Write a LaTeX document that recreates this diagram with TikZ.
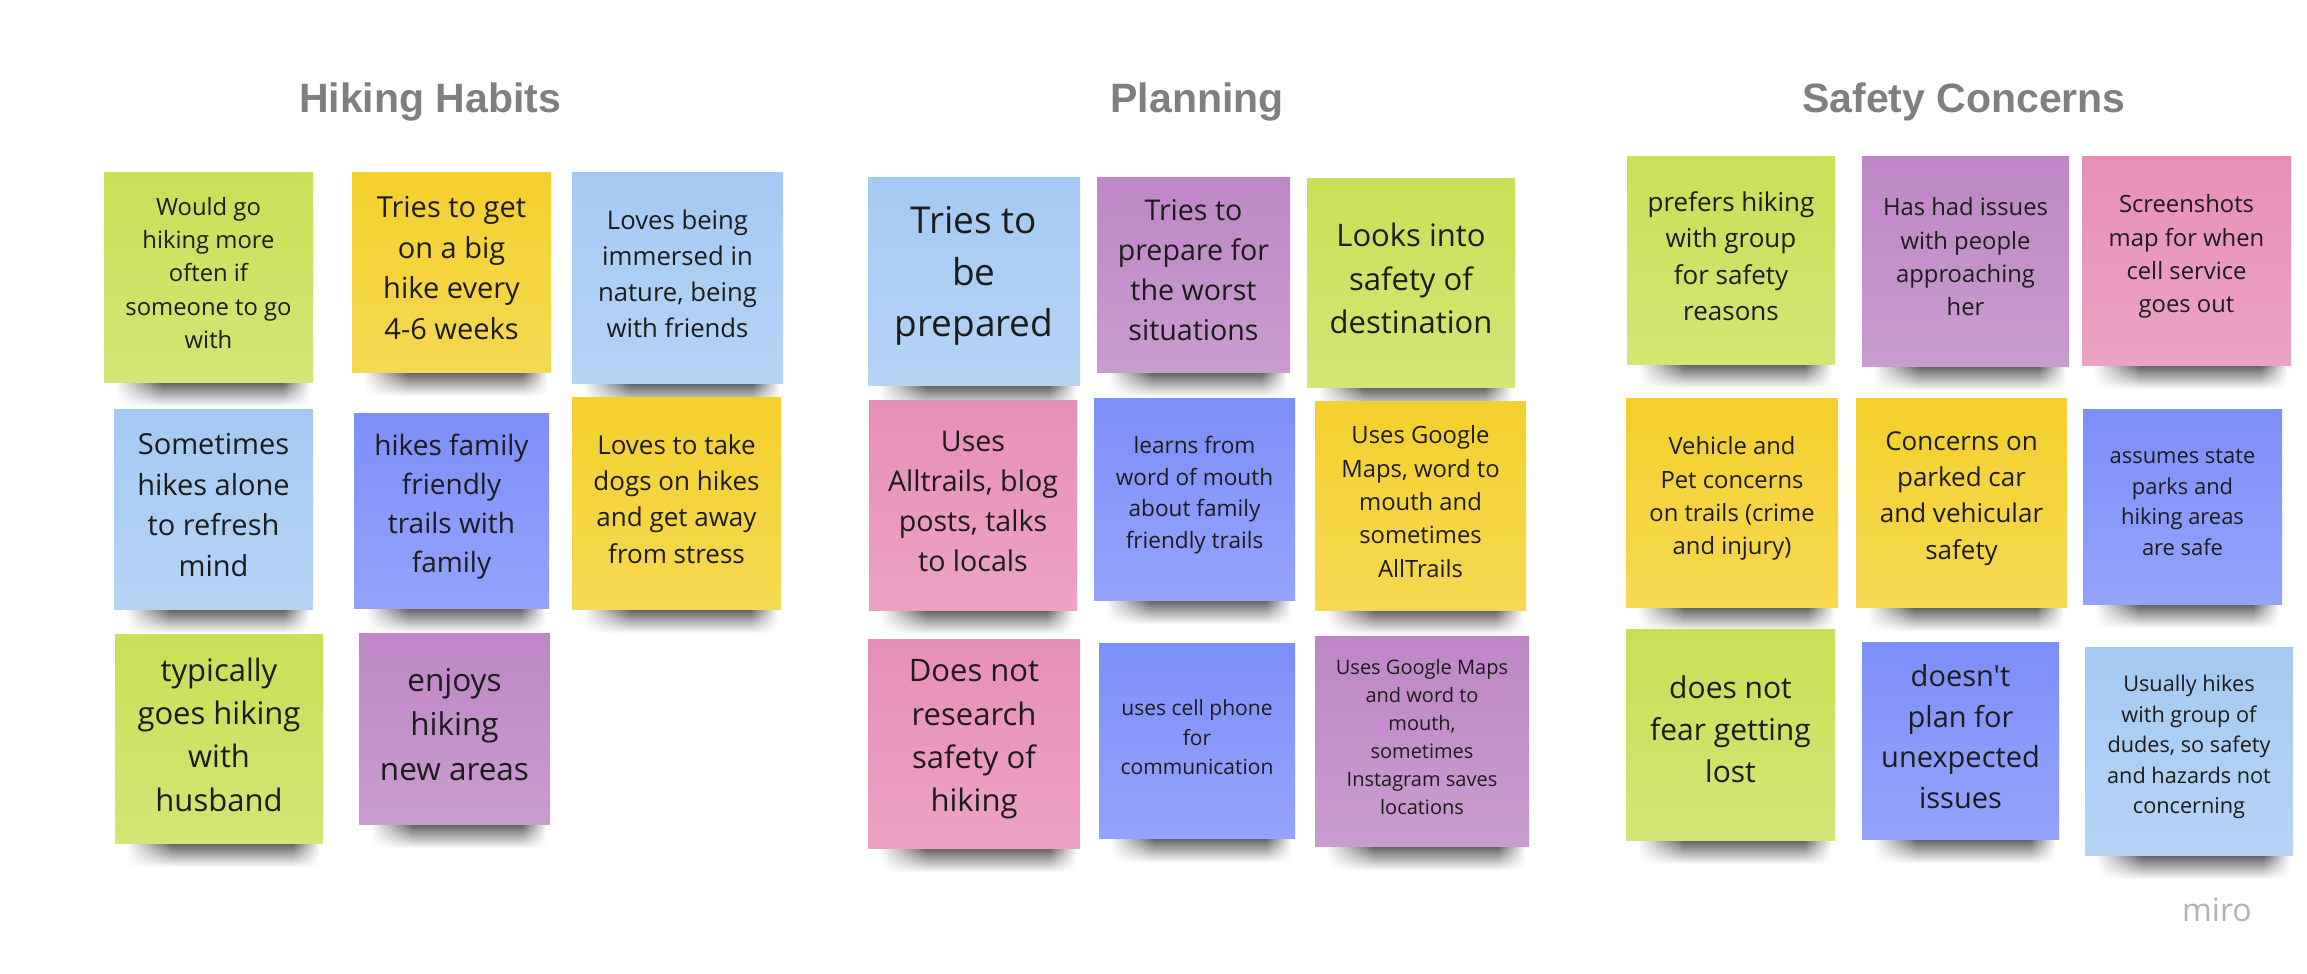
\documentclass[tikz,border=0pt]{standalone}
\usepackage{fontspec}
\setmainfont{Open Sans}[Ligatures=TeXOff]
\newfontfamily\titlefont{Liberation Sans}
\usetikzlibrary{fadings}
\definecolor{notegreen}{HTML}{CADF56}
\definecolor{noteyellow}{HTML}{F4D02C}
\definecolor{notelblue}{HTML}{A4CAF3}
\definecolor{noteblue}{HTML}{7C8FF9}
\definecolor{notepurple}{HTML}{BE86C6}
\definecolor{notepink}{HTML}{E78FB7}
\definecolor{inktext}{HTML}{1C1C1C}
\definecolor{headgray}{HTML}{7F7F7F}
\pgfdeclarelayer{background}
\pgfsetlayers{background,main}
\pgfdeclarehorizontalshading{sideshade}{100bp}{color(0bp)=(black); color(25bp)=(black); color(37bp)=(white); color(68bp)=(white); color(75bp)=(black); color(100bp)=(black)}
\pgfdeclarefading{sidefade}{\pgfuseshading{sideshade}}
\tikzset{
  note/.style={rectangle,inner sep=0pt,top color=#1,bottom color=#1!82!white},
  notetext/.style={align=center,text=inktext,inner sep=0pt},
  fs/.style={font=\fontsize{#1}{\fpeval{1.4*#1}}\selectfont},
  heading/.style={font=\titlefont\bfseries\fontsize{41}{48}\selectfont,text=headgray,anchor=base},
  noteshadow/.style={top color=black!62,bottom color=white,path fading=sidefade}
}

\begin{document}
\begin{tikzpicture}[x=1pt,y=-1pt]
% headings
\node[heading] (habits) at (430,112) {Hiking Habits};
\node[heading] (planning) at (1197,112) {Planning};
\node[heading] (safety) at (1964,112) {Safety Concerns};

% Hiking Habits
\node[note=notegreen,minimum width=209,minimum height=210] (h1) at (208.5,277) {};
\node[notetext,fs=23.8] (h1t) at ([yshift=4]h1) {Would go\\hiking more\\often if\\someone to go\\with};
\node[note=noteyellow,minimum width=199,minimum height=200] (h2) at (451.5,272) {};
\node[notetext,fs=29] (h2t) at ([yshift=4]h2) {Tries to get\\on a big\\hike every\\4-6 weeks};
\node[note=notelblue,minimum width=211,minimum height=211] (h3) at (677.5,277.5) {};
\node[notetext,fs=25.7] (h3t) at ([yshift=4]h3) {Loves being\\immersed in\\nature, being\\with friends};
\node[note=notelblue,minimum width=199,minimum height=200] (h4) at (213.5,509) {};
\node[notetext,fs=29] (h4t) at ([yshift=4]h4) {Sometimes\\hikes alone\\to refresh\\mind};
\node[note=noteblue,minimum width=195,minimum height=195] (h5) at (451.5,510.5) {};
\node[notetext,fs=28] (h5t) at ([yshift=4]h5) {hikes family\\friendly\\trails with\\family};
\node[note=noteyellow,minimum width=209,minimum height=212] (h6) at (676.5,503) {};
\node[notetext,fs=26] (h6t) at ([yshift=4]h6) {Loves to take\\dogs on hikes\\and get away\\from stress};
\node[note=notegreen,minimum width=208,minimum height=209] (h7) at (219,738.5) {};
\node[notetext,fs=31] (h7t) at ([yshift=4]h7) {typically\\goes hiking\\with\\husband};
\node[note=notepurple,minimum width=191,minimum height=191] (h8) at (454.5,728.5) {};
\node[notetext,fs=31.5] (h8t) at ([yshift=4]h8) {enjoys\\hiking\\new areas};

% Planning
\node[note=notelblue,minimum width=212,minimum height=208] (p1) at (974,281) {};
\node[notetext,fs=37] (p1t) at ([yshift=5]p1) {Tries to\\be\\prepared};
\node[note=notepurple,minimum width=193,minimum height=195] (p2) at (1193.5,274.5) {};
\node[notetext,fs=28.6] (p2t) at ([yshift=4]p2) {Tries to\\prepare for\\the worst\\situations};
\node[note=notegreen,minimum width=208,minimum height=209] (p3) at (1411,282.5) {};
\node[notetext,fs=31] (p3t) at ([yshift=4]p3) {Looks into\\safety of\\destination};
\node[note=notepink,minimum width=208,minimum height=210] (p4) at (973,505) {};
\node[notetext,fs=28.6] (p4t) at ([yshift=4]p4) {Uses\\Alltrails, blog\\posts, talks\\to locals};
\node[note=noteblue,minimum width=201,minimum height=202] (p5) at (1194.5,499) {};
\node[notetext,fs=22.6] (p5t) at ([yshift=4]p5) {learns from\\word of mouth\\about family\\friendly trails};
\node[note=noteyellow,minimum width=211,minimum height=209] (p6) at (1420.5,505.5) {};
\node[notetext,fs=23.8] (p6t) at ([yshift=4]p6) {Uses Google\\Maps, word to\\mouth and\\sometimes\\AllTrails};
\node[note=notepink,minimum width=212,minimum height=209] (p7) at (974,743.5) {};
\node[notetext,fs=31] (p7t) at ([yshift=4]p7) {Does not\\research\\safety of\\hiking};
\node[note=noteblue,minimum width=196,minimum height=195] (p8) at (1197,740.5) {};
\node[notetext,fs=21] (p8t) at ([yshift=3]p8) {uses cell phone\\for\\communication};
\node[note=notepurple,minimum width=214,minimum height=210] (p9) at (1422,741) {};
\node[notetext,fs=20] (p9t) at ([yshift=4]p9) {Uses Google Maps\\and word to\\mouth,\\sometimes\\Instagram saves\\locations};

% Safety Concerns
\node[note=notegreen,minimum width=208,minimum height=208] (s1) at (1731,260) {};
\node[notetext,fs=26] (s1t) at ([yshift=4]s1) {prefers hiking\\with group\\for safety\\reasons};
\node[note=notepurple,minimum width=207,minimum height=210] (s2) at (1965.5,261) {};
\node[notetext,fs=23.8] (s2t) at ([yshift=4]s2) {Has had issues\\with people\\approaching\\her};
\node[note=notepink,minimum width=209,minimum height=209] (s3) at (2186.5,260.5) {};
\node[notetext,fs=23.8] (s3t) at ([yshift=4]s3) {Screenshots\\map for when\\cell service\\goes out};
\node[note=noteyellow,minimum width=212,minimum height=209] (s4) at (1732,502.5) {};
\node[notetext,fs=23.8] (s4t) at ([yshift=4]s4) {Vehicle and\\Pet concerns\\on trails (crime\\and injury)};
\node[note=noteyellow,minimum width=211,minimum height=209] (s5) at (1961.5,502.5) {};
\node[notetext,fs=26] (s5t) at ([yshift=4]s5) {Concerns on\\parked car\\and vehicular\\safety};
\node[note=noteblue,minimum width=199,minimum height=195] (s6) at (2182.5,506.5) {};
\node[notetext,fs=21.9] (s6t) at ([yshift=4]s6) {assumes state\\parks and\\hiking areas\\are safe};
\node[note=notegreen,minimum width=209,minimum height=211] (s7) at (1730.5,734.5) {};
\node[notetext,fs=30] (s7t) at ([yshift=5]s7) {does not\\fear getting\\lost};
\node[note=noteblue,minimum width=197,minimum height=197] (s8) at (1960.5,740.5) {};
\node[notetext,fs=29] (s8t) at ([yshift=4]s8) {doesn't\\plan for\\unexpected\\issues};
\node[note=notelblue,minimum width=208,minimum height=208] (s9) at (2189,751) {};
\node[notetext,fs=21.7] (s9t) at ([yshift=4]s9) {Usually hikes\\with group of\\dudes, so safety\\and hazards not\\concerning};

\node[font=\fontsize{32}{38}\selectfont,text=black!30,anchor=base] (miro) at (2217,921) {miro};

% shadows under the notes
\begin{pgfonlayer}{background}
\fill[white] (0,0) rectangle (2307,974);
\foreach \n in {h1,h2,h3,h4,h5,h6,h7,h8,p1,p2,p3,p4,p5,p6,p7,p8,p9,s1,s2,s3,s4,s5,s6,s7,s8,s9}
  \shade[noteshadow] ([xshift=12]\n.south west) rectangle ([xshift=-4,yshift=-24]\n.south east);
\end{pgfonlayer}
\end{tikzpicture}
\end{document}
